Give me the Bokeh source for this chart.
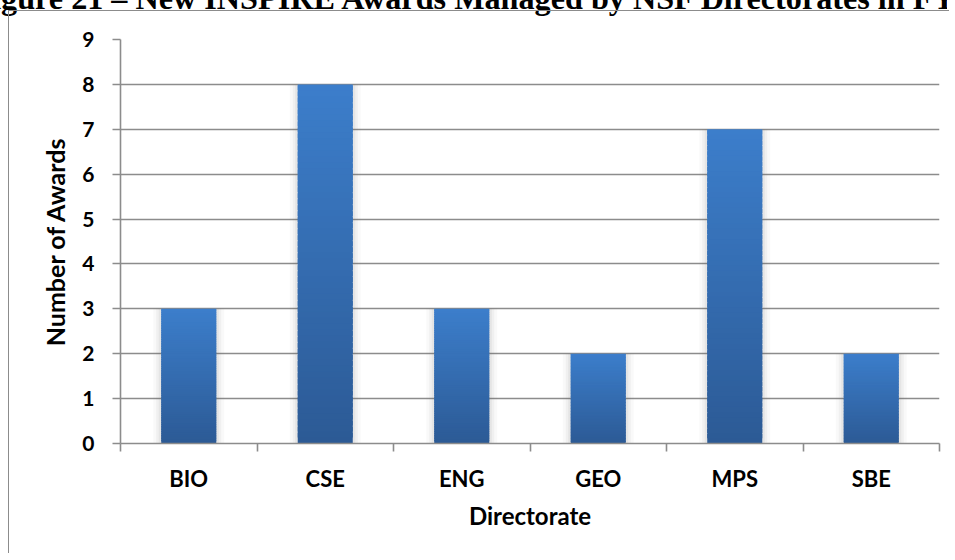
from bokeh.plotting import figure
from bokeh.models import (ColumnDataSource, Range1d, FixedTicker, Label, InlineStyleSheet)
from bokeh.embed import file_html
from bokeh.resources import INLINE

# ---- data ----
categories = ["BIO", "CSE", "ENG", "GEO", "MPS", "SBE"]
awards = [3, 8, 3, 2, 7, 2]
y_ticks = [0, 1, 2, 3, 4, 5, 6, 7, 8, 9]
title_text = "Figure 21 \u2013 New INSPIRE Awards Managed by NSF Directorates in FY 2013"
x_title = "Directorate"
y_title = "Number of Awards"

# ---- style ----
FONT = "Lato"
GRID = "#8c8c8c"
TOP_C = (0x3c, 0x7e, 0xcb)
BOT_C = (0x2c, 0x5a, 0x95)
W, H = 955, 560
# plot area in page pixels
FL, FR, FT, FB = 120, 939, 39, 443
OFF = 8  # figure sits at page (-8, -8)
L = FL + OFF
T = FT + OFF
R = W - (FR + OFF)
B = H - (FB + OFF)

# outer chart frame (left and top edges visible), drawn as a CSS overlay
frame_css = InlineStyleSheet(css="""
:host { position: relative; }
:host::after {
  content: "";
  position: absolute;
  left: %dpx; top: %dpx;
  width: %dpx; height: %dpx;
  border-left: 1.6px solid %s;
  border-top: 1.6px solid %s;
  pointer-events: none;
  z-index: 5;
}
""" % (8 + OFF, 10 + OFF, W - (8 + OFF) + 1, H - (10 + OFF), GRID, GRID))

p = figure(width=W, height=H, output_backend="svg", toolbar_location=None,
           x_range=Range1d(0, len(categories)), y_range=Range1d(0, 9),
           min_border_left=L, min_border_right=R, min_border_top=T, min_border_bottom=B,
           margin=(-8, 0, 0, -8), stylesheets=[frame_css])
p.outline_line_color = None
p.background_fill_color = "white"
p.border_fill_color = "white"

# shadow behind bars
px = 1.0 / ((FR - FL) / len(categories))
centers = [i + 0.5 for i in range(len(categories))]
bw = 0.403
for extra, alpha in [(8, 0.04), (5, 0.06), (2.5, 0.08)]:
    p.vbar(x=centers, top=awards, bottom=0, width=bw + 2 * extra * px,
           fill_color="#606060", fill_alpha=alpha, line_color=None)

# gradient bars built from overlapping strips
N = 60
xs, bots, tops, cols = [], [], [], []
for c, v in zip(centers, awards):
    for j in range(N):
        f = (j + 0.5) / N
        rgb = tuple(int(round(BOT_C[k] + (TOP_C[k] - BOT_C[k]) * f)) for k in range(3))
        xs.append(c)
        bots.append(v * j / N)
        tops.append(min(v, v * (j + 1.8) / N))
        cols.append("#%02x%02x%02x" % rgb)
src = ColumnDataSource(dict(x=xs, bottom=bots, top=tops, color=cols))
p.vbar(x="x", bottom="bottom", top="top", width=bw, source=src,
       fill_color="color", line_color=None)

# grid
p.xgrid.visible = False
p.ygrid.ticker = FixedTicker(ticks=y_ticks)
p.ygrid.grid_line_color = GRID
p.ygrid.grid_line_width = 1.6

# y axis
ya = p.yaxis[0]
ya.ticker = FixedTicker(ticks=y_ticks)
ya.axis_line_color = GRID
ya.axis_line_width = 1.6
ya.major_tick_line_color = GRID
ya.major_tick_line_width = 1.6
ya.major_tick_in = 0
ya.major_tick_out = 8
ya.minor_tick_line_color = None
ya.major_label_text_font = FONT
ya.major_label_text_font_style = "bold"
ya.major_label_text_font_size = "21px"
ya.major_label_text_color = "black"
ya.major_label_standoff = 18
ya.axis_label = y_title
ya.axis_label_text_font = FONT
ya.axis_label_text_font_style = "bold"
ya.axis_label_text_font_size = "25px"
ya.axis_label_text_color = "black"
ya.axis_label_standoff = 9

# x axis: tick marks at boundaries, labels at centers
xa = p.xaxis[0]
xa.ticker = FixedTicker(ticks=centers, minor_ticks=list(range(len(categories) + 1)))
xa.major_label_overrides = {c: name for c, name in zip(centers, categories)}
xa.axis_line_color = GRID
xa.axis_line_width = 1.6
xa.major_tick_line_color = None
xa.major_tick_in = 0
xa.major_tick_out = 8
xa.minor_tick_line_color = GRID
xa.minor_tick_line_width = 1.6
xa.minor_tick_in = 0
xa.minor_tick_out = 8
xa.major_label_text_font = FONT
xa.major_label_text_font_style = "bold"
xa.major_label_text_font_size = "22px"
xa.major_label_text_color = "black"
xa.major_label_standoff = 13
xa.axis_label = x_title
xa.axis_label_text_font = FONT
xa.axis_label_text_font_style = "bold"
xa.axis_label_text_font_size = "24px"
xa.axis_label_text_color = "black"
xa.axis_label_standoff = 6

# document caption, cut off at the top of the page (placed in the top panel so it is not clipped)
cap = Label(x=-28 - FL, y=FT + 3, x_units="screen", y_units="screen",
            text=title_text, text_font="Liberation Serif", text_font_style="bold",
            text_font_size="32.2px", text_color="black", text_baseline="alphabetic")
p.add_layout(cap, "above")

open("out.html", "w").write(file_html(p, INLINE))
